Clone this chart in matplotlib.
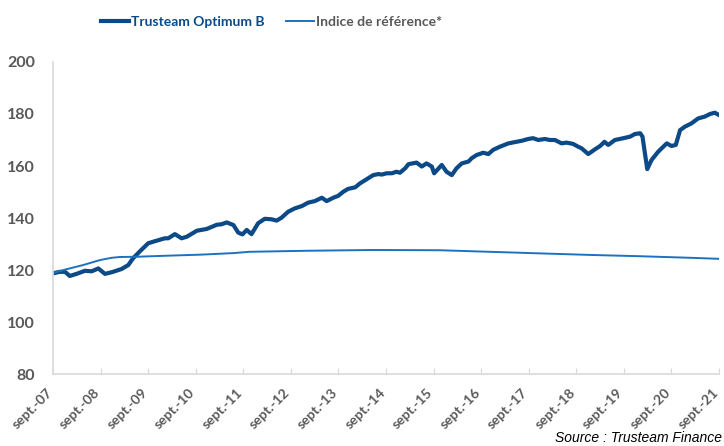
"""Trusteam Optimum B vs benchmark, base 100 style line chart."""

import matplotlib

matplotlib.use("Agg")

import matplotlib.pyplot as plt
from matplotlib.transforms import ScaledTranslation

# decimal years
fund_years = [
    2007.66, 2007.81, 2007.92, 2008.02, 2008.16, 2008.34, 2008.48, 2008.62, 2008.76, 2008.93,
    2009.11, 2009.25, 2009.35, 2009.50, 2009.67, 2009.85, 2010.02, 2010.09, 2010.23, 2010.37,
    2010.48, 2010.69, 2010.90, 2011.11, 2011.21, 2011.32, 2011.46, 2011.56, 2011.65, 2011.74,
    2011.84, 2011.98, 2012.12, 2012.26, 2012.37, 2012.47, 2012.61, 2012.75, 2012.90, 2013.03,
    2013.17, 2013.32, 2013.42, 2013.56, 2013.66, 2013.77, 2013.87, 2014.02, 2014.12, 2014.26,
    2014.40, 2014.51, 2014.58, 2014.68, 2014.79, 2014.89, 2014.96, 2015.07, 2015.14, 2015.31,
    2015.42, 2015.52, 2015.63, 2015.68, 2015.84, 2015.94, 2016.05, 2016.15, 2016.26, 2016.40,
    2016.47, 2016.57, 2016.71, 2016.82, 2016.92, 2017.06, 2017.24, 2017.38, 2017.52, 2017.66,
    2017.76, 2017.87, 2018.01, 2018.11, 2018.22, 2018.36, 2018.46, 2018.60, 2018.71, 2018.78,
    2018.92, 2019.06, 2019.17, 2019.26, 2019.34, 2019.48, 2019.66, 2019.80, 2019.90, 2020.01,
    2020.06, 2020.16, 2020.25, 2020.39, 2020.57, 2020.67, 2020.76, 2020.85, 2020.95, 2021.09,
    2021.23, 2021.37, 2021.48, 2021.58, 2021.67,
]
fund_values = [
    118.7, 119.3, 119.3, 117.7, 118.5, 119.7, 119.5, 120.6, 118.5, 119.3,
    120.4, 121.9, 124.5, 127.3, 130.3, 131.3, 132.2, 132.2, 133.8, 132.2,
    132.8, 135.1, 135.8, 137.4, 137.6, 138.3, 137.3, 134.4, 133.7, 135.4,
    133.8, 138.0, 139.7, 139.5, 139.0, 140.1, 142.4, 143.7, 144.6, 145.9,
    146.5, 147.8, 146.5, 147.8, 148.5, 150.1, 151.2, 151.8, 153.3, 154.9,
    156.5, 156.9, 156.7, 157.2, 157.2, 157.8, 157.4, 159.1, 160.7, 161.3,
    159.8, 161.0, 159.8, 157.2, 160.4, 157.8, 156.5, 159.1, 161.0, 161.7,
    163.0, 164.2, 165.1, 164.6, 166.2, 167.4, 168.7, 169.2, 169.7, 170.4,
    170.7, 170.0, 170.4, 170.0, 170.0, 168.7, 169.0, 168.5, 167.4, 166.8,
    164.6, 166.4, 167.7, 169.3, 168.1, 170.0, 170.7, 171.3, 172.3, 172.6,
    171.3, 158.8, 162.3, 165.5, 168.7, 167.7, 168.1, 173.8, 175.1, 176.4,
    178.3, 179.0, 180.0, 180.5, 179.6,
]

index_years = [
    2007.66, 2007.95, 2008.30, 2008.65, 2008.90, 2009.07, 2009.43, 2010.06, 2010.76, 2011.46,
    2011.79, 2013.00, 2014.40, 2015.80, 2016.85, 2017.90, 2018.96, 2020.01, 2021.06, 2021.67,
]
index_values = [
    118.8, 120.3, 121.9, 123.8, 124.7, 125.0, 125.1, 125.5, 125.9, 126.5,
    127.0, 127.4, 127.7, 127.6, 127.0, 126.4, 125.8, 125.3, 124.7, 124.3,
]

tick_years = [2007.667 + k for k in range(15)]
tick_labels = [f"sept.-{y:02d}" for y in range(7, 22)]

FUND_COLOR = "#0B4A86"
INDEX_COLOR = "#1B72C0"
TEXT_GRAY = "#595959"
AXIS_GRAY = "#D9D9D9"

fig = plt.figure(figsize=(7.24, 4.46), dpi=100)
ax = fig.add_axes([0.0732, 0.1614, 0.9198, 0.6996])

fund_line = ax.plot(fund_years, fund_values, color=FUND_COLOR, linewidth=3.0,
                    solid_joinstyle="round", label="Trusteam Optimum B")[0]
index_line = ax.plot(index_years, index_values, color=INDEX_COLOR, linewidth=1.4,
                     label="Indice de référence*")[0]

ax.set_xlim(tick_years[0], tick_years[-1])
ax.set_ylim(80, 200)
ax.set_yticks(range(80, 201, 20))
ax.set_xticks(tick_years)
ax.set_xticklabels(tick_labels, rotation=45, ha="right", va="center", rotation_mode="anchor")

for side in ("top", "right"):
    ax.spines[side].set_visible(False)
for side in ("left", "bottom"):
    ax.spines[side].set_color(AXIS_GRAY)
    ax.spines[side].set_linewidth(1.2)

ax.tick_params(axis="x", direction="in", length=4, color=AXIS_GRAY, pad=12)
ax.tick_params(axis="y", length=0, pad=13)
shift = ScaledTranslation(-2 / 72, 0, fig.dpi_scale_trans)
for lab in ax.get_xticklabels():
    lab.set_fontfamily("Lato")
    lab.set_fontweight("bold")
    lab.set_fontsize(10)
    lab.set_color(TEXT_GRAY)
    lab.set_transform(lab.get_transform() + shift)
for lab in ax.get_yticklabels():
    lab.set_fontfamily("Lato")
    lab.set_fontweight("bold")
    lab.set_fontsize(11.5)
    lab.set_color(TEXT_GRAY)

leg = fig.legend(
    [fund_line, index_line],
    ["Trusteam Optimum B", "Indice de référence*"],
    loc="center",
    bbox_to_anchor=(0.375, 0.951),
    ncol=2,
    frameon=False,
    handlelength=2.0,
    handletextpad=0.15,
    columnspacing=1.5,
    prop={"family": "Lato", "weight": "bold", "size": 10},
)
leg.get_texts()[0].set_color(FUND_COLOR)
leg.get_texts()[1].set_color(TEXT_GRAY)

fig.text(722 / 724, 1 - 438 / 446, "Source : Trusteam Finance", fontsize=10,
         fontstyle="italic", family="Liberation Sans", color="black", va="center", ha="right")

fig.savefig("out.png", dpi=100)
plt.close(fig)
